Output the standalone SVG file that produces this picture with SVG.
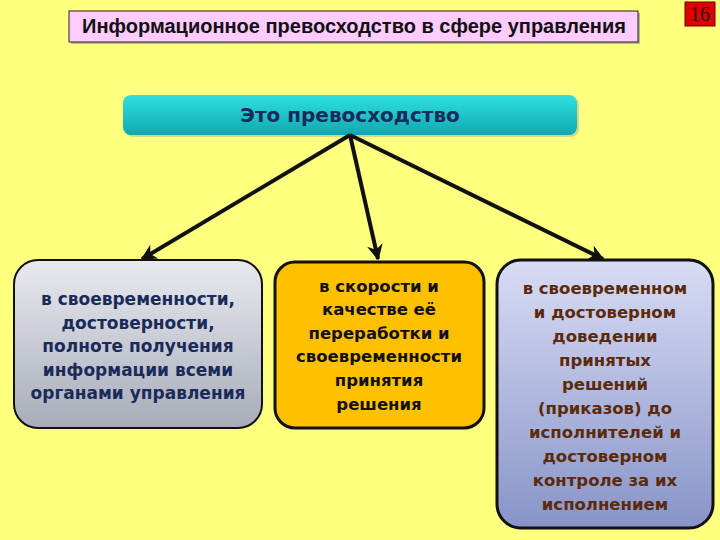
<svg xmlns="http://www.w3.org/2000/svg" width="720" height="540" viewBox="0 0 720 540">
<defs>
<linearGradient id="gCyan" x1="0" y1="0" x2="0" y2="1"><stop offset="0" stop-color="#2FE0E0"/><stop offset="1" stop-color="#0FA8B0"/></linearGradient>
<linearGradient id="gGrey" x1="0" y1="0" x2="0" y2="1"><stop offset="0" stop-color="#E8EAF0"/><stop offset="1" stop-color="#A8ACB8"/></linearGradient>
<linearGradient id="gBlue" x1="0" y1="0" x2="0" y2="1"><stop offset="0" stop-color="#D8DCF4"/><stop offset="1" stop-color="#8894C8"/></linearGradient>
<marker id="ah" viewBox="0 0 10 10" refX="9" refY="5" markerWidth="4" markerHeight="4" orient="auto" markerUnits="strokeWidth"><path d="M0,0 L10,5 L0,10 L3,5 Z" fill="#111"/></marker>
</defs>
<style>
.t{font-family:"DejaVu Sans",Verdana,sans-serif;font-weight:bold;text-anchor:middle}
.ta{font-family:"Liberation Sans",Arial,sans-serif;font-weight:bold;text-anchor:middle}
.box{stroke:#111;stroke-width:2}
</style>
<rect width="720" height="540" fill="#FFFF80"/>
<g id="title">
<rect x="71" y="13" width="569" height="31" fill="#777" opacity="0.5"/>
<rect x="69" y="11" width="569" height="31" fill="#FFCCFF" stroke="#222" stroke-width="1"/>
<text class="ta" x="354" y="33" font-size="20" fill="#111">Информационное превосходство в сфере управления</text>
</g>
<g id="page">
<rect x="685" y="2" width="30" height="24" fill="#E00000" stroke="#600" stroke-width="1"/>
<text x="700" y="21" font-family="Liberation Serif,serif" font-size="20" text-anchor="middle" fill="#300">16</text>
</g>
<g id="root">
<rect x="125" y="97" width="454" height="40" rx="8" fill="#999" opacity="0.4"/>
<rect x="123" y="95" width="454" height="40" rx="8" fill="url(#gCyan)"/>
<text class="t" x="350" y="122" font-size="20" fill="#1A2A5A">Это превосходство</text>
</g>
<g id="connectors" stroke="#111" stroke-width="4" fill="none">
<line x1="350" y1="135" x2="142" y2="259" marker-end="url(#ah)"/>
<line x1="350" y1="135" x2="378" y2="259" marker-end="url(#ah)"/>
<line x1="350" y1="135" x2="603" y2="259" marker-end="url(#ah)"/>
</g>
<g id="left">
<rect class="box" x="14" y="260" width="248" height="168" rx="24" fill="url(#gGrey)"/>
<g class="t" font-size="17" fill="#1A2A5A">
<text x="138" y="305">в своевременности,</text>
<text x="138" y="329">достоверности,</text>
<text x="138" y="352">полноте получения</text>
<text x="138" y="376">информации всеми</text>
<text x="138" y="399">органами управления</text>
</g>
</g>
<g id="middle">
<rect x="275" y="262" width="209" height="166" rx="20" fill="#FFC000" stroke="#111" stroke-width="3"/>
<g class="t" font-size="16.5" fill="#111">
<text x="379" y="292">в скорости и</text>
<text x="379" y="315">качестве её</text>
<text x="379" y="339">переработки и</text>
<text x="379" y="362">своевременности</text>
<text x="379" y="386">принятия</text>
<text x="379" y="410">решения</text>
</g>
</g>
<g id="right">
<rect x="497" y="260" width="216" height="268" rx="24" fill="url(#gBlue)" stroke="#111" stroke-width="3"/>
<g class="t" font-size="16.5" fill="#5A2A0A">
<text x="605" y="294">в своевременном</text>
<text x="605" y="318">и достоверном</text>
<text x="605" y="342">доведении</text>
<text x="605" y="366">принятых</text>
<text x="605" y="390">решений</text>
<text x="605" y="414">(приказов) до</text>
<text x="605" y="438">исполнителей и</text>
<text x="605" y="462">достоверном</text>
<text x="605" y="486">контроле за их</text>
<text x="605" y="510">исполнением</text>
</g>
</g>
</svg>
